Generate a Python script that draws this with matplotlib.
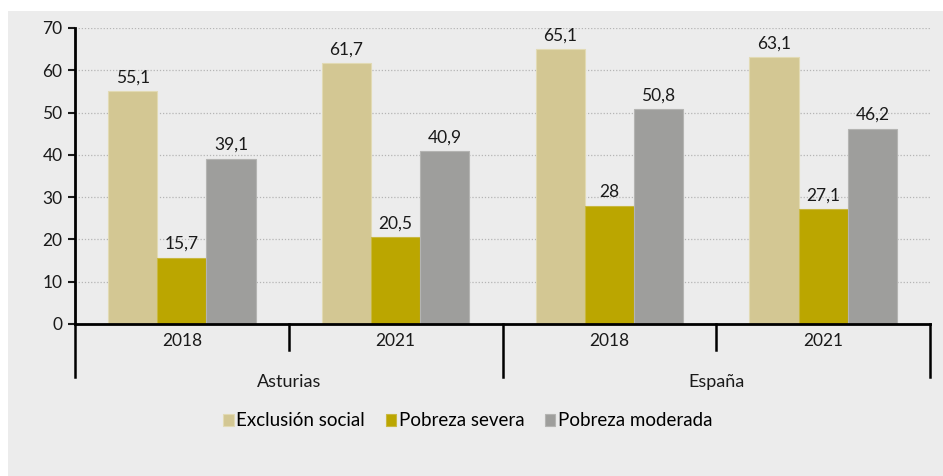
import matplotlib.pyplot as plt
import matplotlib.transforms as mtransforms
from matplotlib.patches import Rectangle
import numpy as np

plt.rcParams['font.family'] = ['Lato', 'DejaVu Sans']

regions = ['Asturias', 'España']
years = ['2018', '2021', '2018', '2021']
series = ['Exclusión social', 'Pobreza severa', 'Pobreza moderada']
exclusion = [55.1, 61.7, 65.1, 63.1]
severa = [15.7, 20.5, 28, 27.1]
moderada = [39.1, 40.9, 50.8, 46.2]
colors = ['#d3c793', '#bba600', '#9e9e9c']
edges = ['#e2dab4', '#c9b840', '#b4b4b2']


def fmt(v):
    s = ('%g' % v).replace('.', ',')
    return s


fig = plt.figure(figsize=(9.43, 4.76), dpi=100)
fig.patch.set_facecolor('white')
fig.patches.append(Rectangle((8 / 943, 0), 1, 465 / 476, transform=fig.transFigure,
                             facecolor='#ececec', edgecolor='none', zorder=-10))

ax = fig.add_axes([75 / 943, 1 - 324 / 476, (930 - 75) / 943, (324 - 28) / 476])
ax.set_facecolor('none')

x = np.arange(len(years))
w = 0.23
for i, (vals, c, ec) in enumerate(zip([exclusion, severa, moderada], colors, edges)):
    pos = x + (i - 1) * w
    bars = ax.bar(pos, vals, w, color=c, edgecolor=ec, linewidth=0.8, label=series[i], zorder=3)
    for p, v in zip(pos, vals):
        ax.annotate(fmt(v), (p, v), xytext=(0, 4), textcoords='offset points',
                    ha='center', va='bottom', fontsize=12.5, color='#1a1a1a')

ax.set_xlim(-0.5, len(years) - 0.5)
ax.set_ylim(0, 70)
ax.set_yticks(range(0, 71, 10))
ax.tick_params(axis='y', direction='out', length=5, width=1.5, labelsize=12.5,
               colors='#1a1a1a', pad=4)
ax.set_xticks([])
ax.grid(axis='y', linestyle=(0, (1, 1.5)), color='#b5b5b5', linewidth=0.9, zorder=0)

for side in ['top', 'right']:
    ax.spines[side].set_visible(False)
ax.spines['left'].set_linewidth(2)
ax.spines['bottom'].set_linewidth(2)
ax.spines['left'].set_zorder(5)
ax.spines['bottom'].set_zorder(5)

# two-level category axis
tr = mtransforms.blended_transform_factory(ax.transData, ax.transAxes)
bounds = np.arange(len(years) + 1) - 0.5
for k, b in enumerate(bounds):
    low = -0.179 if k % 2 == 0 else -0.088
    ax.plot([b, b], [0, low], color='black', linewidth=1.8, transform=tr, clip_on=False)
for xi, yr in zip(x, years):
    ax.text(xi, -0.057, yr, transform=tr, ha='center', va='center', fontsize=12.5, color='#1a1a1a')
for j, reg in enumerate(regions):
    ax.text(2 * j + 0.5, -0.195, reg, transform=tr, ha='center', va='center',
            fontsize=13, color='#1a1a1a')

fig.legend(loc='center', bbox_to_anchor=(468 / 943, 1 - 421 / 476), ncol=3, frameon=False,
           fontsize=13.5, handlelength=0.55, handleheight=0.55, handletextpad=0.15,
           columnspacing=1.1)

fig.savefig('out.png', dpi=100)
